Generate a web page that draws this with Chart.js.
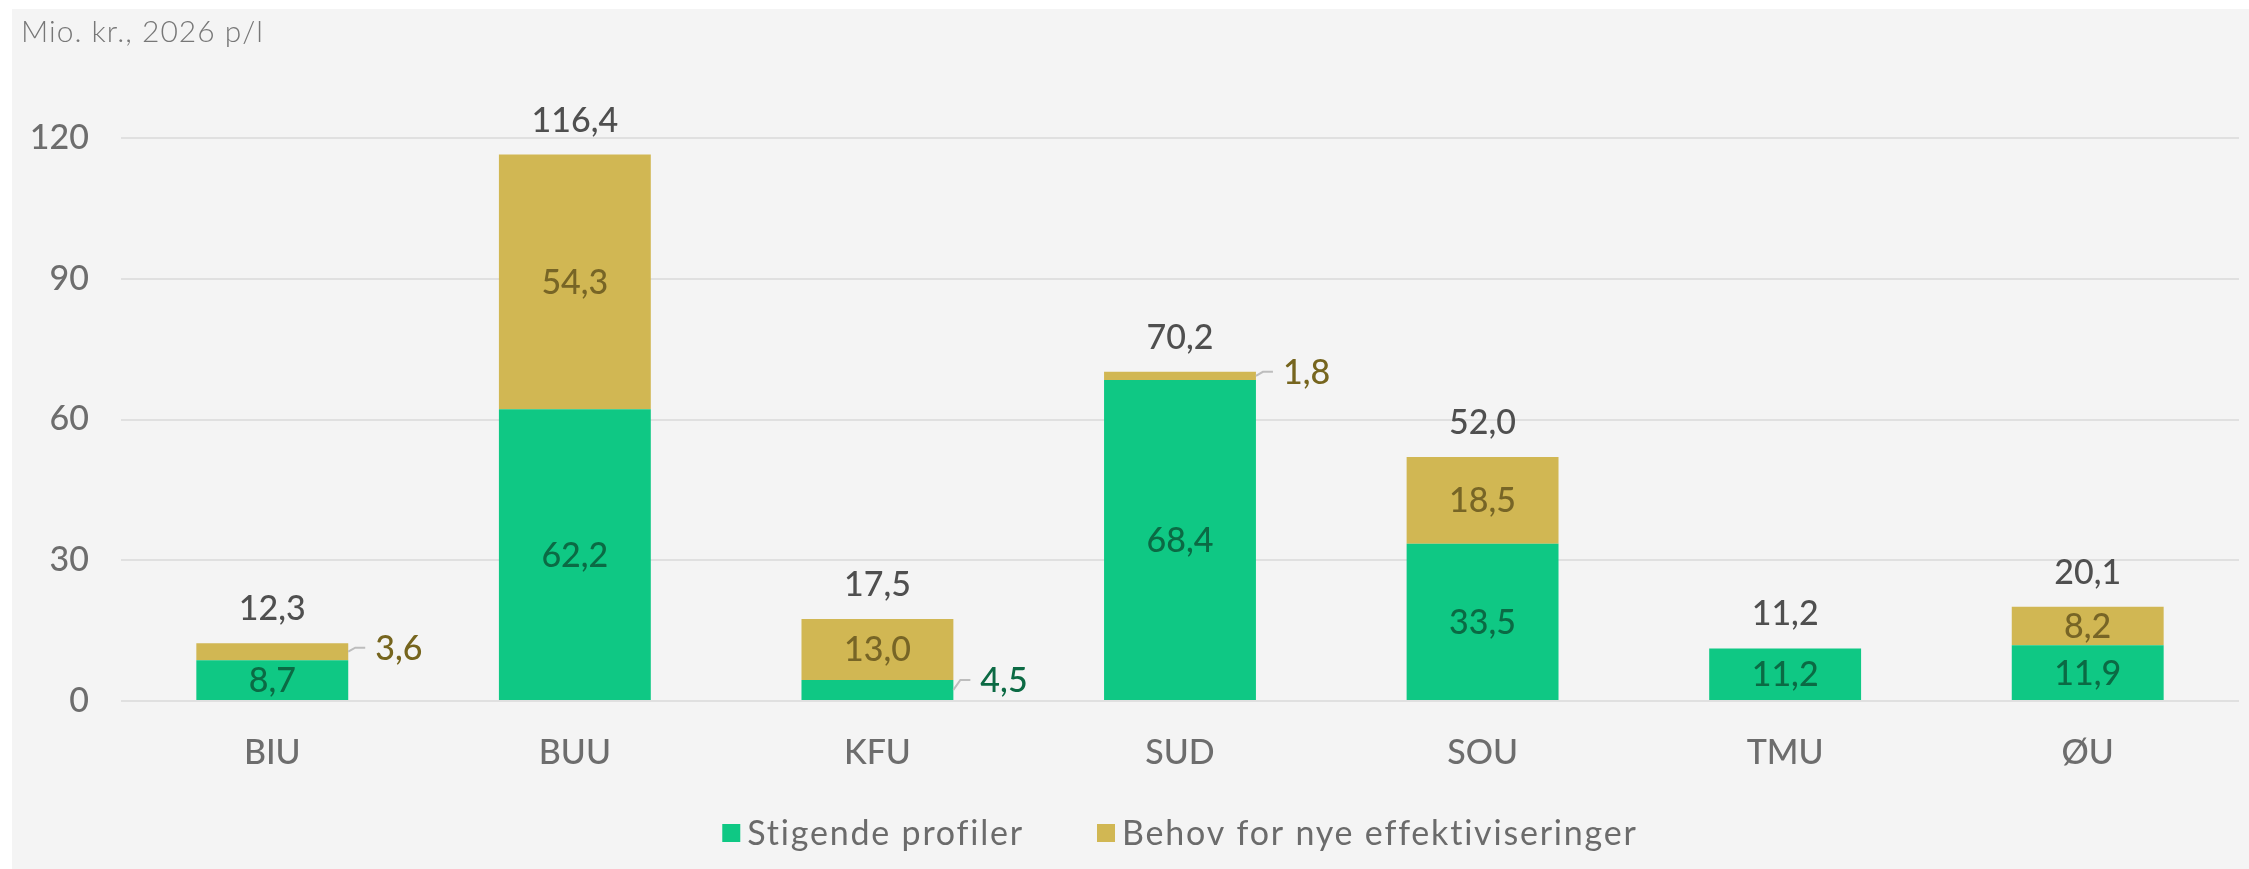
<!DOCTYPE html>
<html>
<head>
<meta charset="utf-8">
<script src="https://cdn.jsdelivr.net/npm/chart.js@4.4.1/dist/chart.umd.min.js"></script>
<style>
  html, body { margin: 0; padding: 0; background: #fff; }
  #wrap { width: 2249px; height: 869px; position: relative; }
</style>
</head>
<body>
<div id="wrap"><canvas id="chart"></canvas></div>
<script>
// data
const categories = ["BIU", "BUU", "KFU", "SUD", "SOU", "TMU", "ØU"];
const stigendeProfiler = [8.7, 62.2, 4.5, 68.4, 33.5, 11.2, 11.9];
const behovEffektiviseringer = [3.6, 54.3, 13.0, 1.8, 18.5, 0, 8.2];
// totals as printed (source figures are unrounded, so BUU is 116,4)
const totals = [12.3, 116.4, 17.5, 70.2, 52.0, 11.2, 20.1];
const seriesNames = ["Stigende profiler", "Behov for nye effektiviseringer"];
const yMax = 120;
const yStep = 30;
const unitLabel = "Mio. kr., 2026 p/l";

const FONT = "Lato, 'Open Sans', sans-serif";

function fmt(v) {
  return v.toFixed(1).replace(".", ",");
}

const background = {
  id: "background",
  beforeDraw(chart) {
    const ctx = chart.ctx;
    ctx.save();
    ctx.fillStyle = "#ffffff";
    ctx.fillRect(0, 0, chart.width, chart.height);
    ctx.fillStyle = "#f4f4f4";
    ctx.fillRect(12, 9, chart.width - 12, chart.height - 9);
    ctx.fillStyle = "#777777";
    ctx.font = "300 30px " + FONT;
    ctx.letterSpacing = "1px";
    ctx.textAlign = "left";
    ctx.textBaseline = "alphabetic";
    ctx.fillText(unitLabel, 21, 42);
    ctx.restore();
  }
};

const valueLabels = {
  id: "valueLabels",
  afterDatasetsDraw(chart) {
    const ctx = chart.ctx;
    const yScale = chart.scales.y;
    const zeroY = yScale.getPixelForValue(0);
    ctx.save();
    ctx.font = "500 34px " + FONT;
    ctx.textBaseline = "alphabetic";
    chart.data.datasets.forEach((ds, di) => {
      const meta = chart.getDatasetMeta(di);
      meta.data.forEach((bar, i) => {
        const v = ds.data[i];
        if (!v) return;
        const top = Math.min(bar.y, bar.base);
        const bottom = Math.max(bar.y, bar.base);
        const mid = (top + bottom) / 2;
        const txt = fmt(v);
        if (bottom - top >= 30) {
          ctx.textAlign = "center";
          ctx.fillStyle = ds.insideColor;
          ctx.fillText(txt, bar.x, mid + 12);
        } else {
          // small segment: label beside the bar with a leader line
          const right = bar.x + bar.width / 2;
          const ly = Math.min(mid - 4, zeroY - 21);
          ctx.strokeStyle = "#bdbdbd";
          ctx.lineWidth = 2;
          ctx.beginPath();
          ctx.moveTo(right, mid);
          ctx.lineTo(right + 7, ly);
          ctx.lineTo(right + 17, ly);
          ctx.stroke();
          ctx.textAlign = "left";
          ctx.fillStyle = ds.outsideColor;
          ctx.fillText(txt, right + 27, ly + 12);
        }
      });
    });
    // totals above each stack
    const meta0 = chart.getDatasetMeta(0);
    ctx.textAlign = "center";
    ctx.fillStyle = "#4f4f4f";
    totals.forEach((t, i) => {
      const topY = yScale.getPixelForValue(t);
      ctx.fillText(fmt(t), meta0.data[i].x, topY - 35 + 12);
    });
    ctx.restore();
  }
};

// legend drawn by hand so box/text spacing matches
const legendRow = {
  id: "legendRow",
  afterDraw(chart) {
    const ctx = chart.ctx;
    const area = chart.chartArea;
    ctx.save();
    ctx.font = "34px " + FONT;
    ctx.letterSpacing = "1.8px";
    ctx.textBaseline = "alphabetic";
    ctx.textAlign = "left";
    const box = 18, gapText = 7, gapItem = 73;
    const items = chart.data.datasets.map(ds => ({
      text: ds.label, color: ds.backgroundColor, w: ctx.measureText(ds.label).width
    }));
    let total = 0;
    items.forEach((it, k) => {
      total += box + gapText + it.w + (k < items.length - 1 ? gapItem : 0);
    });
    let x = (area.left + area.right) / 2 - total / 2;
    const cy = 833;
    items.forEach(it => {
      ctx.fillStyle = it.color;
      ctx.fillRect(x, cy - box / 2, box, box);
      x += box + gapText;
      ctx.fillStyle = "#6b6b6b";
      ctx.fillText(it.text, x, cy + 12);
      x += it.w + gapItem;
    });
    ctx.restore();
  }
};

const ctx = document.getElementById("chart").getContext("2d");
const chart = new Chart(ctx, {
  type: "bar",
  data: {
    labels: categories,
    datasets: [
      {
        label: seriesNames[0],
        data: stigendeProfiler,
        backgroundColor: "#0fc884",
        insideColor: "#0b6a44",
        outsideColor: "#0c6a44",
        barPercentage: 0.502,
        categoryPercentage: 1
      },
      {
        label: seriesNames[1],
        data: behovEffektiviseringer,
        backgroundColor: "#d1b753",
        insideColor: "#776526",
        outsideColor: "#76651e",
        barPercentage: 0.502,
        categoryPercentage: 1
      }
    ]
  },
  options: {
    responsive: true,
    maintainAspectRatio: false,
    animation: false,
    layout: {
      padding: { top: 138, right: 10, bottom: 0, left: 0 }
    },
    plugins: {
      legend: { display: false },
      tooltip: { enabled: false }
    },
    scales: {
      x: {
        stacked: true,
        grid: { display: false },
        border: { display: false },
        ticks: {
          color: "#6d6d6d",
          font: { family: FONT, size: 34, weight: 500 },
          padding: 24
        },
        afterFit: function (s) { s.height = 168; }
      },
      y: {
        stacked: true,
        min: 0,
        max: yMax,
        border: { display: false },
        grid: { color: "#e0e0e0", lineWidth: 2, drawTicks: false },
        ticks: {
          stepSize: yStep,
          color: "#6d6d6d",
          font: { family: FONT, size: 34, weight: 500 },
          padding: 32
        },
        afterFit: function (s) { s.width = 121; }
      }
    }
  },
  plugins: [background, valueLabels, legendRow]
});
</script>
</body>
</html>
